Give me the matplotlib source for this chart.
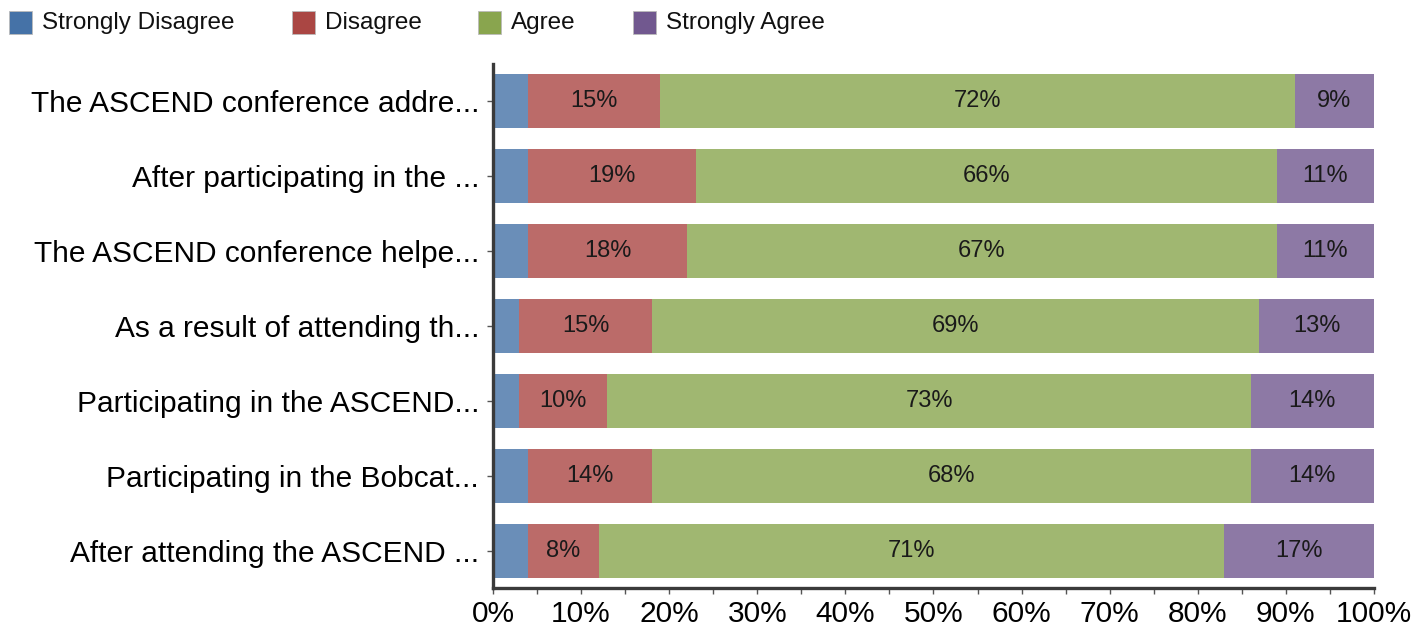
import matplotlib
matplotlib.use("Agg")
import matplotlib.pyplot as plt
from matplotlib.patches import Rectangle
from matplotlib.ticker import MultipleLocator, FuncFormatter
import numpy as np

plt.rcParams['font.family'] = ['Liberation Sans', 'DejaVu Sans']

statements = [
    "The ASCEND conference addre...",
    "After participating in the ...",
    "The ASCEND conference helpe...",
    "As a result of attending th...",
    "Participating in the ASCEND...",
    "Participating in the Bobcat...",
    "After attending the ASCEND ...",
]
series_names = ["Strongly Disagree", "Disagree", "Agree", "Strongly Agree"]
strongly_disagree = [4, 4, 4, 3, 3, 4, 4]
disagree = [15, 19, 18, 15, 10, 14, 8]
agree = [72, 66, 67, 69, 73, 68, 71]
strongly_agree = [9, 11, 11, 13, 14, 14, 17]
x_ticks = [0, 10, 20, 30, 40, 50, 60, 70, 80, 90, 100]

colors = ["#4572a7", "#aa4643", "#89a54e", "#71588f"]
series = [strongly_disagree, disagree, agree, strongly_agree]
show_label = [False, True, True, True]

fig = plt.figure(figsize=(14.21, 6.34), dpi=100)
ax = fig.add_axes([0.3469, 0.0718, 0.6200, 0.8280])

y = np.arange(len(statements))
left = np.zeros(len(statements))
for vals, col, lab in zip(series, colors, show_label):
    vals = np.array(vals, dtype=float)
    bars = ax.barh(y, vals, left=left, height=0.73, color=col, alpha=0.8,
                   edgecolor='none')
    if lab:
        for b, v in zip(bars, vals):
            ax.text(b.get_x() + b.get_width() / 2, b.get_y() + b.get_height() / 2,
                    f"{v:.0f}%", ha='center', va='center', fontsize=17,
                    color='#1a1a1a')
    left += vals

ax.set_xlim(0, 100)
ax.set_ylim(len(statements) - 0.5, -0.5)
ax.set_yticks(y)
ax.set_yticklabels(statements, fontsize=21.5)
ax.xaxis.set_minor_locator(MultipleLocator(5))
ax.set_xticks(x_ticks)
ax.xaxis.set_major_formatter(FuncFormatter(lambda v, p: f"{v:.0f}%"))
ax.tick_params(axis='x', which='both', direction='out', length=4, width=1,
               color='#555555', labelsize=21.5, pad=4)
ax.tick_params(axis='y', direction='out', length=4, width=1, color='#555555',
               pad=6)

for s in ['top', 'right']:
    ax.spines[s].set_visible(False)
for s in ['left', 'bottom']:
    ax.spines[s].set_color('#3a3a3a')
    ax.spines[s].set_linewidth(2.4)

# legend row along the top edge
W, H = fig.get_size_inches() * fig.dpi
legend_x = [9, 292, 478, 633]
for xp, name, col in zip(legend_x, series_names, colors):
    fig.patches.append(Rectangle((xp / W, 1 - 34 / H), 23 / W, 23 / H,
                                 transform=fig.transFigure, facecolor=col,
                                 edgecolor='#bbbbbb', linewidth=0.6))
    fig.text((xp + 33) / W, 1 - 23 / H, name, fontsize=17.5,
             ha='left', va='center', color='#111111')

fig.savefig("out.png", dpi=100)
